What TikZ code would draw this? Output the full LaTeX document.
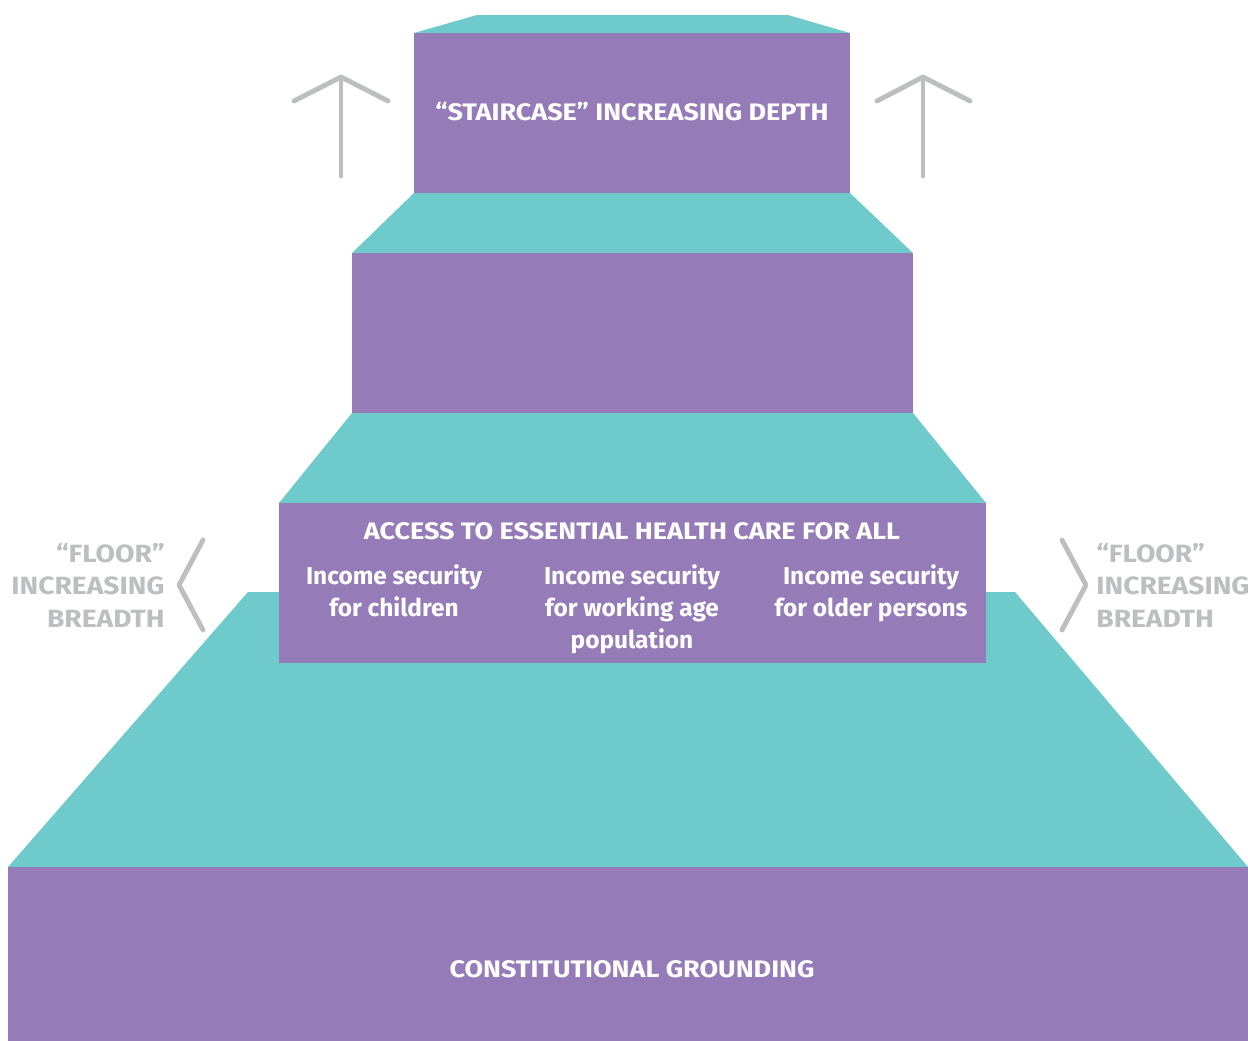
\documentclass[tikz,border=0pt]{standalone}
\usepackage{fontspec}
\setmainfont{Fira Sans}
\newfontfamily\widefont{Fira Sans}[FakeStretch=1.13]
\definecolor{stairpurple}{HTML}{957CB8}
\definecolor{stairteal}{HTML}{6ECACB}
\definecolor{stairgray}{HTML}{BDBEC0}
\tikzset{
  box/.style={fill=stairpurple, draw=none},
  tread/.style={fill=stairteal, draw=none},
  guide/.style={draw=stairgray, line width=2.8pt, line cap=round, line join=round},
  captxt/.style={text=white, font=\widefont\bfseries\fontsize{13.6}{18.2}\selectfont, align=center, inner sep=0pt},
  whitetxt/.style={text=white, font=\bfseries\fontsize{13.9}{18.2}\selectfont, align=center, inner sep=0pt},
  graytxt/.style={text=stairgray, font=\widefont\bfseries\fontsize{14.2}{18.4}\selectfont, inner sep=0pt},
}
\begin{document}
\begin{tikzpicture}[x=0.02cm, y=-0.02cm]
\useasboundingbox (0,0) rectangle (1248,1041);
% treads
\fill[tread] (248,592) -- (1015,592) -- (1248,867) -- (8,867) -- cycle;
\fill[tread] (352,413) -- (913,413) -- (986,503) -- (279,503) -- cycle;
\fill[tread] (414,193) -- (850,193) -- (913,253) -- (352,253) -- cycle;
\fill[tread] (477,15) -- (788,15) -- (850,33) -- (414,33) -- cycle;
% risers
\fill[box] (8,867) rectangle (1248,1041);
\fill[box] (279,503) rectangle (986,663);
\fill[box] (352,253) rectangle (913,413);
\fill[box] (414,33) rectangle (850,193);
% arrows
\coordinate (la0) at (341,176); \coordinate (la1) at (341,77);
\coordinate (ra0) at (923,176); \coordinate (ra1) at (923,77);
\draw[guide] (la0) -- (la1);
\draw[guide] (294,101) -- (la1) -- (388,101);
\draw[guide] (ra0) -- (ra1);
\draw[guide] (877,101) -- (ra1) -- (970,101);
% brackets
\draw[guide] (203,540) -- (179,585) -- (203,630);
\draw[guide] (1062,540) -- (1086,585) -- (1062,630);
% texts
\node[captxt] (stair) at (632,112) {“STAIRCASE” INCREASING DEPTH};
\node[captxt] (access) at (632,531) {ACCESS TO ESSENTIAL HEALTH CARE FOR ALL};
\node[whitetxt, anchor=north] (child) at (394,564) {Income security\\for children};
\node[whitetxt, anchor=north] (work) at (632,564) {Income security\\for working age\\population};
\node[whitetxt, anchor=north] (old) at (871,564) {Income security\\for older persons};
\node[captxt] (const) at (632,969) {CONSTITUTIONAL GROUNDING};
\node[graytxt, anchor=north east, align=right] (floorl) at (165,543) {“FLOOR”\\INCREASING\\BREADTH};
\node[graytxt, anchor=north west, align=left] (floorr) at (1096,543) {“FLOOR”\\INCREASING\\BREADTH};
\end{tikzpicture}
\end{document}
